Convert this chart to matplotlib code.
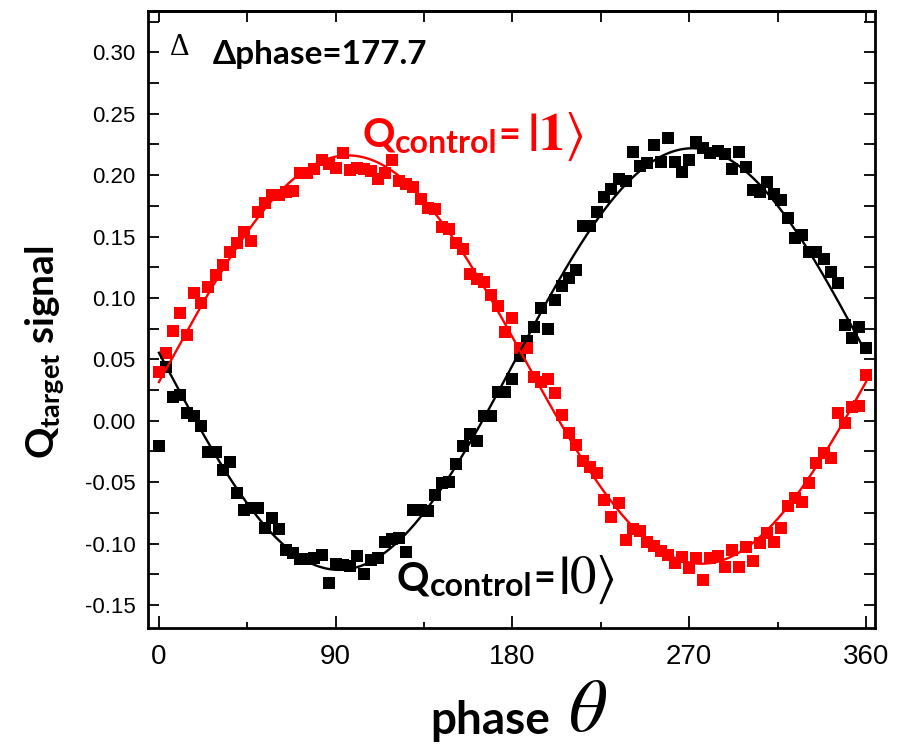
import numpy as np
import matplotlib
matplotlib.use("Agg")
import matplotlib.pyplot as plt
from matplotlib.ticker import FixedLocator, MultipleLocator, FormatStrFormatter, NullFormatter
from matplotlib import font_manager

# ---------------- data ----------------
phase_deg = np.linspace(0.0, 360.0, 101)

# control qubit prepared in |0>
signal_ctrl0 = np.array([
    -0.0204, 0.044, 0.0195, 0.021, 0.006, 0.0038, -0.0043, -0.0252, -0.0252, -0.040,
    -0.0334, -0.0586, -0.0727, -0.0714, -0.0714, -0.0876, -0.0795, -0.0885, -0.1053, -0.1075,
    -0.1124, -0.1124, -0.1116, -0.1094, -0.1319, -0.117, -0.1175, -0.1183, -0.110, -0.125,
    -0.1134, -0.112, -0.0985, -0.0966, -0.0958, -0.1067, -0.073, -0.073, -0.0733, -0.0605,
    -0.051, -0.050, -0.0353, -0.0206, -0.011, -0.0163, 0.0038, 0.0038, 0.0236, 0.0236,
    0.0337, 0.053, 0.065, 0.0765, 0.0915, 0.0744, 0.0983, 0.1097, 0.116, 0.1227,
    0.1585, 0.1585, 0.170, 0.1824, 0.189, 0.1966, 0.195, 0.219, 0.2074, 0.2096,
    0.2245, 0.2104, 0.230, 0.211, 0.2028, 0.2123, 0.2272, 0.2218, 0.2178, 0.220,
    0.217, 0.205, 0.2186, 0.2064, 0.188, 0.1865, 0.1946, 0.1846, 0.180, 0.1648,
    0.149, 0.151, 0.1376, 0.1376, 0.1314, 0.1213, 0.1124, 0.078, 0.067, 0.0765,
    0.059])

# control qubit prepared in |1>
signal_ctrl1 = np.array([
    0.040, 0.055, 0.073, 0.088, 0.070, 0.104, 0.096, 0.109, 0.119, 0.127,
    0.137, 0.145, 0.154, 0.146, 0.170, 0.177, 0.184, 0.1835, 0.186, 0.187,
    0.2015, 0.202, 0.205, 0.212, 0.209, 0.2055, 0.218, 0.204, 0.2055, 0.205,
    0.203, 0.197, 0.2015, 0.212, 0.195, 0.193, 0.1906, 0.1805, 0.173, 0.172,
    0.158, 0.156, 0.1445, 0.140, 0.1195, 0.115, 0.113, 0.102, 0.0937, 0.0725,
    0.084, 0.059, 0.059, 0.0358, 0.0318, 0.0337, 0.0223, 0.0046, -0.0103, -0.0198,
    -0.0326, -0.0375, -0.0428, -0.0646, -0.078, -0.067, -0.097, -0.0885, -0.090, -0.0985,
    -0.102, -0.106, -0.109, -0.116, -0.111, -0.120, -0.112, -0.1297, -0.112, -0.110,
    -0.119, -0.105, -0.1195, -0.1026, -0.114, -0.0999, -0.0912, -0.0985, -0.087, -0.0695,
    -0.063, -0.066, -0.051, -0.0347, -0.0266, -0.030, 0.006, -0.002, 0.011, 0.012,
    0.037])

x_ticks = [0, 90, 180, 270, 360]
delta_phase_text = "\u0394phase=177.7"


def sine_fit(x_deg, y):
    """Least-squares fit y = a + b*sin(x) + c*cos(x)."""
    t = np.deg2rad(x_deg)
    design = np.column_stack([np.ones_like(t), np.sin(t), np.cos(t)])
    coef, *_ = np.linalg.lstsq(design, y, rcond=None)
    return coef


def sine_eval(coef, x_deg):
    t = np.deg2rad(x_deg)
    return coef[0] + coef[1] * np.sin(t) + coef[2] * np.cos(t)


# ---------------- style ----------------
plt.rcParams["axes.unicode_minus"] = False
plt.rcParams["mathtext.fontset"] = "custom"
plt.rcParams["mathtext.rm"] = "Lato:bold"
plt.rcParams["mathtext.bf"] = "Lato:bold"
plt.rcParams["mathtext.it"] = "Lato:bold:italic"

installed = {f.name for f in font_manager.fontManager.ttflist}
tick_family = "Liberation Sans" if "Liberation Sans" in installed else "DejaVu Sans"
bold_family = ["Lato", "DejaVu Sans"]

fig = plt.figure(figsize=(9.15, 7.5), dpi=100)
ax = fig.add_axes([0.1617, 0.1631, 0.7946, 0.8222])

ax.set_xlim(-5.6, 364.6)
ax.set_ylim(-0.1685, 0.3336)

# measured points
ax.plot(phase_deg, signal_ctrl0, ls="none", marker="s", ms=8, mew=0,
        color="black", zorder=2)
ax.plot(phase_deg, signal_ctrl1, ls="none", marker="s", ms=8, mew=0,
        color="#ff0000", zorder=2.1)

# sinusoidal fits
theta_fine = np.linspace(0.0, 360.0, 721)
fit0 = sine_fit(phase_deg, signal_ctrl0)
fit1 = sine_fit(phase_deg, signal_ctrl1)
ax.plot(theta_fine, sine_eval(fit0, theta_fine), color="black", lw=1.7, zorder=3)
ax.plot(theta_fine, sine_eval(fit1, theta_fine), color="#ff0000", lw=1.7, zorder=3.1)

# axes frame and ticks
for sp in ax.spines.values():
    sp.set_linewidth(2.0)

ax.xaxis.set_major_locator(FixedLocator(x_ticks))
ax.xaxis.set_minor_locator(MultipleLocator(45))
ax.yaxis.set_major_locator(MultipleLocator(0.05))
ax.yaxis.set_minor_locator(MultipleLocator(0.025))
ax.yaxis.set_major_formatter(FormatStrFormatter("%.2f"))

ax.tick_params(axis="x", which="major", direction="in", length=8.5, width=1.3,
               bottom=True, top=False, pad=12, labelsize=20)
ax.tick_params(axis="x", which="minor", direction="in", length=4, width=1.3,
               bottom=True, top=False)
ax.tick_params(axis="y", which="both", direction="in", length=8, width=1.3,
               left=True, right=True, pad=9, labelsize=16)
for lab in ax.get_xticklabels() + ax.get_yticklabels():
    lab.set_fontfamily(tick_family)

top = ax.secondary_xaxis("top")
top.set_xticks(np.arange(0, 361, 45))
top.tick_params(direction="in", length=8, width=1.3, labeltop=False)
top.xaxis.set_major_formatter(NullFormatter())
top.spines["top"].set_linewidth(2.0)

# annotations
ax.text(10.7, 0.3035, "\u0394", fontsize=22, family="Liberation Serif",
        ha="center", va="center", color="black")
ax.text(27.5, 0.2978, delta_phase_text, fontsize=24, family=bold_family,
        fontweight="bold", ha="left", va="center", color="black")


def state_label(x, y, color, ket, gap):
    q = ax.text(x, y, "Q", fontsize=29, family=bold_family, fontweight="bold",
                color=color, ha="left", va="baseline")
    sub = ax.annotate("control", xy=(1, y), xycoords=(q, "data"),
                      xytext=(0, -4), textcoords="offset points",
                      fontsize=23, family=bold_family, fontweight="bold",
                      color=color, ha="left", va="baseline")
    eq = ax.annotate("=", xy=(1, y), xycoords=(sub, "data"),
                     xytext=(1, 0), textcoords="offset points",
                     fontsize=27, family=bold_family, fontweight="bold",
                     color=color, ha="left", va="baseline")
    ax.annotate(ket, xy=(1, y), xycoords=(eq, "data"),
                xytext=(gap, -2), textcoords="offset points",
                fontsize=38, color=color, ha="left", va="baseline",
                math_fontfamily="stix")


state_label(103.4, 0.2229, "#ff0000", r"$\mathbf{|1}\rangle$", 5)
state_label(121.2, -0.1379, "black", r"$\mathbf{|}0\rangle$", 2)

# axis titles
fig.text(0.049, 0.53, r"Q$_{\mathrm{target}}$ signal", rotation=90,
         fontsize=28, family=bold_family, fontweight="bold",
         ha="center", va="center", math_fontfamily="custom")
phase_lbl = fig.text(430 / 915, 0.022, "phase", fontsize=33, family=bold_family,
                     fontweight="bold", ha="left", va="baseline")
ax.annotate(r"$\theta$", xy=(1, 0.004), xycoords=(phase_lbl, "figure fraction"),
            xytext=(13, 0), textcoords="offset points", fontsize=54,
            ha="left", va="bottom", math_fontfamily="stix",
            annotation_clip=False)

fig.savefig("out.png", dpi=100)
